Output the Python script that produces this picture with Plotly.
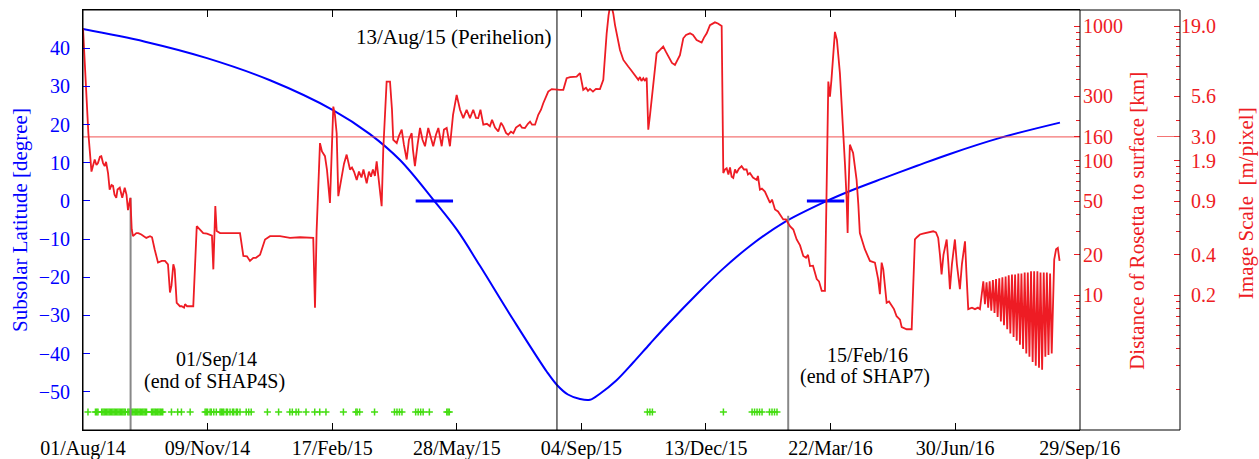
import pandas as pd
import plotly.graph_objects as go

START = pd.Timestamp("2014-08-01")

# ---------------- data ----------------
x_tick_days = [0, 100, 200, 300, 400, 500, 600, 700, 800]
x_tick_labels = ["01/Aug/14", "09/Nov/14", "17/Feb/15", "28/May/15", "04/Sep/15",
                 "13/Dec/15", "22/Mar/16", "30/Jun/16", "29/Sep/16"]

lat_ticks = [-50, -40, -30, -20, -10, 0, 10, 20, 30, 40]

dist_ticks = [10, 20, 50, 100, 150, 300, 1000]
dist_tick_labels = ["10", "20", "50", "100", "160", "300", "1000"]
scale_tick_labels = ["\u20070.2", "\u20070.4", "\u20070.9", "\u20071.9", "\u20073.0", "\u20075.6", "19.0"]
dist_minor_ticks = [2, 3, 4, 5, 6, 7, 8, 9, 20, 30, 40, 50, 60, 70, 80, 90,
                    200, 300, 400, 500, 600, 700, 800, 900]

# subsolar latitude (days since 01/Aug/14, degrees)
lat_days = [0, 49.8, 99.5, 150.1, 200.6, 230.3, 254.4, 281.9, 300.2, 318.6, 345.1, 372.4,
            380.4, 389.2, 398.9, 406.9, 414.9, 427.8, 441.4, 455.1, 468.8, 495.2, 513.6,
            535.3, 561.8, 597.1, 615.6, 642.1, 669.4, 695.8, 736.0, 784.1]
lat_deg = [45.0, 41.7, 37.4, 31.6, 23.8, 17.5, 10.7, 0, -7.6, -17.0, -31.0, -44.8,
           -48.2, -50.7, -51.9, -52.1, -50.5, -47.1, -42.4, -37.4, -32.5, -23.6, -17.8,
           -11.8, -5.8, 0, 2.6, 5.9, 9.2, 12.3, 16.5, 20.5]

# equinox markers (days since 01/Aug/14) and half width in days
equinox_days = [282, 596]
equinox_half = 15

# distance of Rosetta to surface (days since 01/Aug/14, km)
dist_days = [
    0, 4.3, 6.8, 9.4, 10.8, 12.0, 13.6, 14.7, 16.1, 17.4, 18.5, 20.1, 21.4, 22.9, 24.1, 25.3,
    26.7, 27.7, 29.5, 31.5, 33.5, 34.9, 36.1, 38.0, 39.1, 40.1, 42.8, 44.4, 46.8, 50.8, 53.8,
    55.4, 57.5, 60.2, 63.2, 65.8, 68.2, 69.8, 71.0, 72.5, 73.6, 75.2, 76.2, 77.8, 79.2, 81.1,
    81.9, 83.5, 85.9, 88.5, 91.3, 93.9, 96.5, 99.5, 101.9, 103.5, 104.6, 105.5, 106.2, 107.3,
    110.0, 118.0, 126.0, 128.7, 131.6, 134.0, 136.7, 138.8, 142.1, 146.1, 150.1, 158.1, 166.1,
    174.2, 184.8, 186.2, 187.5, 190.2, 191.8, 194.2, 195.8, 198.2, 199.4, 200.9, 202.2, 203.6,
    204.9, 206.3, 207.6, 209.5, 211.6, 213.1, 214.3, 215.9, 217.5, 219.7, 221.5, 223.5, 225.1,
    227.7, 229.5, 231.1, 232.7, 234.3, 235.7, 237.0, 238.4, 239.7, 241.0, 243.7, 246.4, 248.0,
    249.0, 251.8, 253.6, 255.8, 257.6, 259.8, 261.6, 263.8, 264.8, 266.4, 268.5, 270.5, 272.5,
    274.5, 277.1, 279.3, 281.1, 283.3, 285.2, 287.9, 289.7, 291.9, 294.5, 297.0, 299.9, 302.6,
    305.2, 307.9, 310.6, 313.2, 315.4, 317.2, 319.0, 321.3, 324.2, 326.6, 328.3, 330.7, 333.3,
    335.5, 337.3, 339.5, 341.3, 343.5, 345.4, 347.5, 350.7, 352.3, 354.7, 357.1, 358.8, 360.4,
    362.8, 365.4, 367.6, 369.4, 371.6, 373.4, 376.2, 380.2, 382.8, 385.5, 388.2, 390.9, 393.3,
    396.2, 398.9, 400.1, 401.5, 403.7, 405.3, 406.9, 409.3, 411.7, 414.9, 417.6, 419.0, 420.3,
    421.8, 423.0, 424.2, 425.6, 427.0, 428.3, 429.8, 431.0, 433.7, 435.8, 437.6, 439.8, 441.7,
    443.8, 445.7, 447.0, 448.2, 449.7, 451.0, 452.4, 453.7, 455.1, 457.7, 460.4, 463.1, 465.7,
    467.9, 471.1, 472.7, 475.1, 476.7, 479.1, 481.8, 484.0, 487.2, 489.6, 492.5, 496.5, 498.4,
    500.6, 503.2, 507.2, 509.6, 512.6, 513.9, 515.2, 516.6, 518.0, 519.3, 520.6, 521.9, 523.3,
    524.6, 526.4, 528.6, 530.5, 532.6, 533.7, 535.3, 537.7, 540.7, 541.7, 543.3, 544.9, 547.3,
    548.9, 551.4, 553.0, 555.4, 557.8, 559.4, 562.0, 564.2, 566.0, 567.4, 570.1, 572.8, 575.5,
    578.1, 580.3, 581.9, 583.5, 585.9, 588.9, 590.7, 592.9, 595.5, 596.7, 598.2, 599.5, 600.7,
    603.5, 605.1, 607.5, 610.2, 611.6, 612.9, 613.7, 614.2, 615.5, 618.1, 620.9, 622.3, 623.5,
    627.5, 631.6, 635.6, 638.2, 639.6, 641.0, 642.3, 645.0, 646.9, 649.0, 650.9, 653.0, 655.7,
    657.1, 661.1, 665.1, 666.1, 667.7, 669.3, 671.7, 674.2, 677.1, 679.8, 682.4, 684.6, 686.4,
    687.8, 689.1, 690.6, 693.2, 694.6, 695.8, 697.4, 699.8, 701.4, 703.8, 705.4, 707.9, 709.1,
    710.5, 713.5, 715.9, 718.3, 719.9,
    722.6, 723.9, 725.2, 726.5, 727.7, 729.0, 730.3, 731.6, 732.8, 734.1, 735.4, 736.7, 737.9,
    739.2, 740.5, 741.8, 743.0, 744.3, 745.6, 746.9, 748.1, 749.4, 750.7, 752.0, 753.2, 754.5,
    755.8, 757.1, 758.3, 759.6, 760.9, 762.2, 763.4, 764.7, 766.0, 767.3, 768.5, 769.8, 771.1,
    772.4, 773.6, 774.9, 776.2, 777.5, 779.5, 781.0, 782.4, 783.8]
dist_km = [
    960, 160, 83, 102, 93, 96, 107, 108, 96, 91, 98, 81, 61, 66, 65, 56,
    53, 61, 63, 53, 63, 56, 43, 53, 31, 27.5, 29, 29, 28.3, 26.7, 27.5,
    27, 22, 17.5, 18, 18, 17, 10.5, 11.8, 17, 15.6, 8.8, 8.6, 8.3, 8.3, 8.1,
    8.6, 8.3, 8.3, 8.3, 32.6, 31, 29, 28.7, 28.3, 27.8, 15.6, 28.3, 46, 30,
    29, 29, 29, 19.6, 19.5, 18, 19, 19, 20, 26, 27.5, 27.5, 26.7,
    27, 26.7, 8.1, 30, 135, 117, 108, 86, 48.6, 121, 252, 219, 160,
    54.5, 66, 77, 95, 111, 96, 86, 89, 83, 72, 83, 75, 86,
    68, 83, 76, 86, 77, 99, 77, 61, 46, 121, 387, 387, 239,
    143, 135, 153, 170, 131, 102, 143, 160, 121, 91, 131, 175, 143,
    128, 175, 143, 128, 156, 175, 128, 170, 175, 128, 219, 308, 239,
    207, 239, 207, 239, 208, 207, 239, 185, 188, 180, 201, 176, 165,
    191, 180, 161, 156, 164, 160, 176, 185, 176, 175, 188, 195, 185,
    185, 219, 239, 267, 303, 326, 340, 336, 336, 336, 410, 418, 418,
    421, 447, 398, 336, 348, 330, 341, 326, 341, 340, 398, 664, 883,
    1200, 1400, 1400, 1240, 1016, 883, 730, 664, 560, 523, 500, 472, 447,
    418, 398, 418, 391, 410, 391, 413, 170, 219, 377, 628, 664, 703,
    642, 560, 532, 514, 550, 608, 811, 859, 883, 859, 788, 753, 820,
    883, 1016, 1065, 1045, 1000, 81, 86, 88, 79, 89, 76, 74.5, 86,
    81, 87, 91, 86, 86, 79, 81, 75, 72, 77, 61, 62, 59,
    55, 48.6, 51.4, 43.4, 42, 39.8, 36.6, 36.6, 34.6, 32.6, 30.8, 26, 23.5,
    19.6, 19, 20, 16.5, 16.6, 13.2, 12.7, 10.8, 10.8, 51.4, 387, 299, 398,
    905, 788, 447, 180, 93, 51.4, 29, 51.4, 131.5, 114, 72, 47, 29,
    22, 18, 17.5, 13.2, 10.2, 17.5, 15.6, 8.8, 9, 8.3, 7.9, 7.0, 6.6,
    5.8, 5.6, 5.6, 11.1, 26, 27, 28.3, 28.7, 29, 29.5, 29.9, 29.3, 26.7,
    20, 14.3, 20, 26, 17, 11.1, 17, 26, 17, 11.1, 17, 25.2, 14.3,
    7.9, 8.1, 7.9, 8.1, 7.9,
    12.7, 8.6, 12.5, 8.1, 12.7, 7.7, 13.0, 7.4, 13.2, 6.9, 13.4, 6.4, 13.6,
    6.0, 13.8, 5.6, 14.1, 5.2, 14.3, 4.9, 14.3, 4.6, 14.5, 4.3, 14.5, 4.0,
    14.8, 3.7, 14.8, 3.5, 15.1, 3.2, 15.1, 3.0, 15.1, 2.9, 14.8, 2.8, 14.8,
    3.5, 14.8, 3.6, 14.5, 3.7, 18.4, 22, 22.5, 18]

# observation days (green crosses), days since 01/Aug/14
obs_days = [4, 10, 11, 12, 15, 16, 17, 18, 19, 20, 21, 22, 23, 24, 25, 26, 27, 28, 29, 30,
            31, 32, 33, 34, 36, 37, 38, 39, 40, 41, 42, 43, 44, 45, 46, 47, 48, 49, 50, 51,
            55, 56, 57, 58, 59, 60, 61, 62, 63, 64, 71, 76, 79, 86, 98, 99, 100, 102, 103,
            105, 107, 110, 111, 112, 113, 115, 116, 118, 120, 121, 123, 124, 126, 131, 133,
            135, 148, 157, 166, 168, 171, 173, 179, 186, 190, 195, 209, 219, 220, 222, 234,
            250, 252, 254, 256, 267, 269, 271, 273, 278, 292, 293, 294,
            453, 455, 457, 514, 537, 539, 541, 543, 545, 551, 553, 555, 557]
obs_lat = -55.3

# events (days since 01/Aug/14) and distance where the marker line stops (km)
shap4s_day, shap4s_km = 38.2, 53
perihelion_day = 380.4
shap7_day, shap7_km = 566.0, 39
threshold_km = 150

# ---------------- helpers ----------------
def to_date(days):
    return START + pd.to_timedelta(days, unit="D")

def dates(days_list):
    return [to_date(d) for d in days_list]

X_END_DAYS = 800.2
XD = 997 / 1097.0  # x-domain fraction: main frame ends here, second axis box beyond

BLUE = "#0000ff"
RED = "#ee1c24"
FONT = "Liberation Serif, Times New Roman, serif"

fig = go.Figure()

# subsolar latitude
fig.add_trace(go.Scatter(x=dates(lat_days), y=lat_deg, mode="lines",
                         line=dict(color=BLUE, width=2, shape="spline", smoothing=1.0),
                         showlegend=False, hoverinfo="skip"))
# equinox bars
eq_x, eq_y = [], []
for d in equinox_days:
    eq_x += [to_date(d - equinox_half), to_date(d + equinox_half), None]
    eq_y += [0, 0, None]
fig.add_trace(go.Scatter(x=eq_x, y=eq_y, mode="lines", line=dict(color=BLUE, width=3),
                         showlegend=False, hoverinfo="skip"))
# observations
fig.add_trace(go.Scatter(x=dates(obs_days), y=[obs_lat] * len(obs_days), mode="markers",
                         marker=dict(symbol="cross-thin", size=5,
                                     line=dict(width=1.5, color="#44dd11")),
                         showlegend=False, hoverinfo="skip"))
# perihelion line
fig.add_trace(go.Scatter(x=[to_date(perihelion_day)] * 2, y=[-60, 50], mode="lines",
                         line=dict(color="black", width=1), showlegend=False, hoverinfo="skip"))

# threshold line on distance axis
fig.add_trace(go.Scatter(x=[START, to_date(X_END_DAYS)], y=[threshold_km] * 2, yaxis="y2",
                         mode="lines", line=dict(color="rgba(240,70,70,0.75)", width=1.2),
                         showlegend=False, hoverinfo="skip"))
# event lines
fig.add_trace(go.Scatter(x=[to_date(shap4s_day), to_date(shap4s_day), None,
                            to_date(shap7_day), to_date(shap7_day)],
                         y=[1, shap4s_km, None, 1, shap7_km], yaxis="y2", mode="lines",
                         line=dict(color="#888888", width=2), showlegend=False, hoverinfo="skip"))
# distance
fig.add_trace(go.Scatter(x=dates(dist_days), y=dist_km, yaxis="y2", mode="lines",
                         line=dict(color=RED, width=1.8), showlegend=False, hoverinfo="skip"))

LOG_RANGE = [0, 3.119]

fig.update_layout(
    width=1259, height=459,
    margin=dict(l=83, r=79, t=10, b=29, autoexpand=False),
    paper_bgcolor="white", plot_bgcolor="white",
    font=dict(family=FONT, size=20, color="black"),
    xaxis=dict(type="date", domain=[0, XD], range=[START, to_date(X_END_DAYS)],
               tickmode="array", tickvals=dates(x_tick_days), ticktext=x_tick_labels,
               ticks="inside", ticklen=7, tickcolor="black", tickwidth=1,
               showline=True, linecolor="black", mirror="ticks", automargin=False,
               showgrid=False, zeroline=False, tickfont=dict(size=20, color="black")),
    yaxis=dict(range=[-60, 50], tickmode="array", tickvals=lat_ticks, automargin=False,
               ticks="inside", ticklen=7, tickcolor=BLUE, showline=True, linecolor="black",
               showgrid=False, zeroline=False, tickfont=dict(size=20, color=BLUE),
               ticklabelstandoff=8),
    yaxis2=dict(type="log", range=LOG_RANGE, overlaying="y", anchor="free", position=XD,
                side="right", tickmode="array", tickvals=dist_ticks, ticktext=dist_tick_labels,
                ticks="inside", ticklen=6, tickcolor=RED, showgrid=False, zeroline=False,
                showline=False, tickfont=dict(size=20, color=RED), ticklabelstandoff=2,
                automargin=False,
                minor=dict(tickmode="array", tickvals=dist_minor_ticks, ticks="inside",
                           ticklen=4, tickcolor=RED)),
    yaxis3=dict(type="log", range=LOG_RANGE, overlaying="y", anchor="free", position=1.0,
                side="right", tickmode="array", tickvals=dist_ticks, ticktext=scale_tick_labels,
                ticks="inside", ticklen=6, tickcolor=RED, showgrid=False, zeroline=False,
                showline=False, tickfont=dict(size=20, color=RED), ticklabelstandoff=0,
                automargin=False,
                minor=dict(tickmode="array", tickvals=dist_minor_ticks, ticks="inside",
                           ticklen=4, tickcolor=RED)),
    yaxis4=dict(type="log", range=LOG_RANGE, overlaying="y", anchor="free", position=1.0,
                side="right", tickmode="array", tickvals=[threshold_km], ticks="inside",
                ticklen=23, tickcolor="rgba(240,70,70,0.75)", showticklabels=False,
                showgrid=False, zeroline=False, showline=False, automargin=False),
)

# invisible traces to activate y3/y4
fig.add_trace(go.Scatter(x=[START], y=[10], yaxis="y3", mode="markers",
                         marker=dict(opacity=0), showlegend=False, hoverinfo="skip"))
fig.add_trace(go.Scatter(x=[START], y=[10], yaxis="y4", mode="markers",
                         marker=dict(opacity=0), showlegend=False, hoverinfo="skip"))

# frame: outer box and inner right border
fig.add_shape(type="rect", xref="paper", yref="paper", x0=0, x1=1, y0=0, y1=1,
              line=dict(color="black", width=1))
fig.add_shape(type="line", xref="paper", yref="paper", x0=XD, x1=XD, y0=0, y1=1,
              line=dict(color="black", width=1))

# axis titles
fig.add_annotation(text="Subsolar Latitude [degree]", xref="paper", yref="paper",
                   x=(20 - 83) / 1097, y=0.5, textangle=-90, showarrow=False,
                   font=dict(size=21, color=BLUE), xanchor="center", yanchor="middle")
fig.add_annotation(text="Distance of Rosetta to surface [km]", xref="paper", yref="paper",
                   x=(1137 - 83) / 1097, y=0.498, textangle=-90, showarrow=False,
                   font=dict(size=21, color=RED), xanchor="center", yanchor="middle")
fig.add_annotation(text="Image Scale \u00a0[m/pixel]", xref="paper", yref="paper",
                   x=(1246 - 83) / 1097, y=0.540, textangle=-90, showarrow=False,
                   font=dict(size=21, color=RED), xanchor="center", yanchor="middle")

# event annotations
fig.add_annotation(text="13/Aug/15 (Perihelion)", x=to_date(perihelion_day), y=42.9,
                   xanchor="right", yanchor="middle", xshift=-4, showarrow=False,
                   font=dict(size=21, color="black"))
fig.add_annotation(text="01/Sep/14", x=to_date(shap4s_day), y=-41.6,
                   xanchor="center", yanchor="middle", xshift=86, showarrow=False,
                   font=dict(size=20, color="black"))
fig.add_annotation(text="(end of SHAP4S)", x=to_date(shap4s_day), y=-47.3,
                   xanchor="center", yanchor="middle", xshift=84, showarrow=False,
                   font=dict(size=20, color="black"))
fig.add_annotation(text="15/Feb/16", x=to_date(shap7_day), y=-40.3,
                   xanchor="center", yanchor="middle", xshift=79, showarrow=False,
                   font=dict(size=20, color="black"))
fig.add_annotation(text="(end of SHAP7)", x=to_date(shap7_day), y=-46.0,
                   xanchor="center", yanchor="middle", xshift=77, showarrow=False,
                   font=dict(size=20, color="black"))

fig.write_html("out.html", config={"displayModeBar": False},
               post_script="document.body.style.margin='0px';")
